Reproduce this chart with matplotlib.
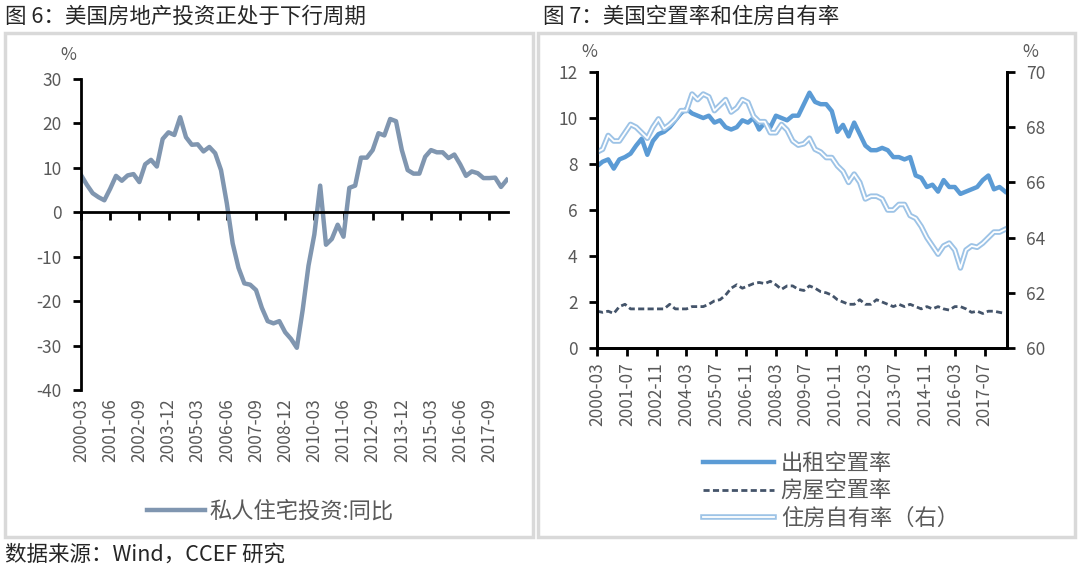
import matplotlib
matplotlib.use("Agg")
import matplotlib.pyplot as plt
import matplotlib.patheffects as pe
from matplotlib.patches import Rectangle

plt.rcParams['font.family'] = ['Noto Sans CJK SC', 'DejaVu Sans']
plt.rcParams['axes.unicode_minus'] = False

# ---- 图6 数据：私人住宅投资同比（季度，2000-03 起） ----
inv_ticks = ['2000-03', '2001-06', '2002-09', '2003-12', '2005-03', '2006-06', '2007-09',
             '2008-12', '2010-03', '2011-06', '2012-09', '2013-12', '2015-03', '2016-06', '2017-09']
inv_yoy = [8.4, 6.2, 4.3, 3.4, 2.7, 5.3, 8.2, 7.1, 8.3, 8.6,
           6.8, 10.8, 11.8, 10.3, 16.5, 18.0, 17.4, 21.4, 16.9, 15.2,
           15.3, 13.7, 14.7, 13.3, 9.5, 2.0, -7.0, -12.5, -16.0, -16.3,
           -17.5, -21.5, -24.5, -25.0, -24.5, -27.0, -28.5, -30.5, -22.0, -12.0,
           -5.0, 6.0, -7.3, -6.0, -2.8, -5.5, 5.5, 6.0, 12.3, 12.3,
           14.0, 17.8, 17.3, 21.0, 20.5, 14.0, 9.5, 8.7, 8.7, 12.5,
           14.0, 13.5, 13.5, 12.2, 13.0, 10.8, 8.2, 9.2, 8.8, 7.7,
           7.7, 7.8, 5.7, 7.3]

# ---- 图7 数据：空置率与住房自有率（季度，2000-03 起） ----
vac_ticks = ['2000-03', '2001-07', '2002-11', '2004-03', '2005-07', '2006-11', '2008-03',
             '2009-07', '2010-11', '2012-03', '2013-07', '2014-11', '2016-03', '2017-07']
rental_vac = [7.9, 8.1, 8.2, 7.8, 8.2, 8.3, 8.45, 8.8, 9.1, 8.4,
              9.0, 9.3, 9.4, 9.6, 9.9, 10.2, 10.4, 10.2, 10.1, 10.0,
              10.1, 9.8, 9.9, 9.6, 9.5, 9.6, 9.9, 9.8, 10.0, 9.5,
              9.8, 9.6, 10.1, 10.0, 9.9, 10.1, 10.1, 10.6, 11.1, 10.7,
              10.6, 10.6, 10.3, 9.4, 9.7, 9.2, 9.8, 9.3, 8.8, 8.6,
              8.6, 8.7, 8.6, 8.3, 8.3, 8.2, 8.3, 7.5, 7.4, 7.0,
              7.1, 6.8, 7.3, 7.0, 7.0, 6.7, 6.8, 6.9, 7.0, 7.3,
              7.5, 6.9, 7.0, 6.8]
home_vac = [1.6, 1.55, 1.6, 1.5, 1.8, 1.9, 1.7, 1.7, 1.7, 1.7,
            1.7, 1.7, 1.7, 1.9, 1.7, 1.7, 1.7, 1.8, 1.8, 1.8,
            1.9, 2.05, 2.1, 2.3, 2.6, 2.75, 2.6, 2.7, 2.8, 2.85,
            2.8, 2.9, 2.75, 2.55, 2.7, 2.7, 2.55, 2.5, 2.7, 2.6,
            2.45, 2.4, 2.3, 2.1, 2.0, 1.9, 1.9, 2.1, 1.9, 1.9,
            2.1, 2.0, 1.9, 1.8, 1.9, 1.8, 1.9, 1.8, 1.7, 1.8,
            1.7, 1.8, 1.7, 1.65, 1.8, 1.8, 1.7, 1.55, 1.6, 1.5,
            1.6, 1.6, 1.55, 1.5]
own_rate = [67.1, 67.2, 67.7, 67.5, 67.5, 67.8, 68.1, 68.0, 67.8, 67.6,
            68.0, 68.3, 67.95, 68.1, 68.3, 68.6, 68.6, 69.2, 69.0, 69.2,
            69.1, 68.6, 68.8, 69.0, 68.55, 68.7, 69.0, 68.9, 68.4, 68.2,
            68.2, 67.8, 67.8, 68.1, 67.9, 67.5, 67.35, 67.4, 67.6, 67.2,
            67.1, 66.9, 66.9, 66.6, 66.4, 66.0, 66.3, 66.0, 65.4, 65.5,
            65.5, 65.4, 65.0, 65.0, 65.2, 65.2, 64.8, 64.7, 64.4, 64.0,
            63.7, 63.4, 63.7, 63.8, 63.55, 62.9, 63.55, 63.7, 63.65, 63.8,
            64.0, 64.2, 64.2, 64.3]

W, H = 1080, 570
fig = plt.figure(figsize=(W / 100, H / 100), dpi=100)
gray = '#595959'

# panel frames
for x0, x1 in [(5, 533), (538, 1075)]:
    fig.patches.append(Rectangle((x0 / W, 1 - 537 / H), (x1 - x0) / W, (537 - 33) / H,
                                 transform=fig.transFigure, fill=False,
                                 edgecolor='#D9D9D9', linewidth=2.5))

fig.text(5 / W, 1 - 17 / H, '图 6：美国房地产投资正处于下行周期', fontsize=15.5,
         va='center', ha='left', color='#262626')
fig.text(543 / W, 1 - 17 / H, '图 7：美国空置率和住房自有率', fontsize=15.5,
         va='center', ha='left', color='#262626')
fig.text(5 / W, 1 - 555 / H, '数据来源：Wind，CCEF 研究', fontsize=15.5,
         va='center', ha='left', color='#262626')

# ---------------- 图6 ----------------
ax1 = fig.add_axes([81 / W, 1 - 390 / H, (508 - 81) / W, (390 - 79) / H])
x1 = list(range(len(inv_yoy)))
ln1, = ax1.plot(x1, inv_yoy, color='#8096B0', linewidth=3.2, label='私人住宅投资:同比')
ax1.set_ylim(-40, 30)
ax1.set_yticks(range(-40, 31, 10))
ax1.set_xlim(0, 73.2)
ax1.spines['top'].set_visible(False)
ax1.spines['right'].set_visible(False)
ax1.spines['bottom'].set_position(('data', 0))
for s in ['left', 'bottom']:
    ax1.spines[s].set_linewidth(2)
ax1.set_xticks(range(0, 71, 5))
ax1.tick_params(axis='x', direction='out', length=6, width=2, labelbottom=False)
ax1.tick_params(axis='y', direction='out', length=6, width=2, labelsize=12.5,
                labelcolor=gray, pad=8)
sec1 = ax1.secondary_xaxis(0)
sec1.set_xticks(range(0, 71, 5), inv_ticks, rotation=90)
sec1.spines['bottom'].set_visible(False)
sec1.tick_params(length=0, labelsize=12.5, labelcolor=gray, pad=6)
fig.text(68 / W, 1 - 55 / H, '%', fontsize=12.5, color=gray, ha='center', va='center')
fig.legend(handles=[ln1], loc='center', bbox_to_anchor=(270 / W, 1 - 511 / H),
           frameon=False, fontsize=16, handlelength=2.6, handletextpad=0.2,
           labelcolor=gray)

# ---------------- 图7 ----------------
ax2 = fig.add_axes([597 / W, 1 - 348 / H, (1007 - 597) / W, (348 - 72) / H])
ax3 = ax2.twinx()
xm = [3 * i for i in range(len(rental_vac))]
l_rent, = ax2.plot(xm, rental_vac, color='#5B9BD5', linewidth=3.2, label='出租空置率')
l_home, = ax2.plot(xm, home_vac, color='#44546A', linewidth=2, linestyle=(0, (2.2, 1.2)),
                   label='房屋空置率')
l_own, = ax3.plot(xm, own_rate, color='white', linewidth=1.3, label='住房自有率（右）',
                  path_effects=[pe.Stroke(linewidth=4, foreground='#9DC3E6'), pe.Normal()])
ax2.set_ylim(0, 12)
ax2.set_yticks(range(0, 13, 2))
ax3.set_ylim(60, 70)
ax3.set_yticks(range(60, 71, 2))
ax2.set_xlim(0, 220)
ax2.set_xticks(range(0, 209, 16), vac_ticks, rotation=90)
for a in (ax2, ax3):
    a.spines['top'].set_visible(False)
    for s in ['left', 'right', 'bottom']:
        a.spines[s].set_linewidth(2)
ax2.tick_params(axis='x', direction='out', length=6, width=2, labelsize=12.5,
                labelcolor=gray, pad=4)
ax2.tick_params(axis='y', direction='out', length=6, width=2, labelsize=12.5,
                labelcolor=gray, pad=8)
ax3.tick_params(axis='y', direction='out', length=6, width=2, labelsize=12.5,
                labelcolor=gray, pad=8)
fig.text(589 / W, 1 - 52 / H, '%', fontsize=12.5, color=gray, ha='center', va='center')
fig.text(1030 / W, 1 - 52 / H, '%', fontsize=12.5, color=gray, ha='center', va='center')
fig.legend(handles=[l_rent, l_home, l_own], loc='upper left',
           bbox_to_anchor=(683 / W, 1 - 432 / H), frameon=False, fontsize=16,
           handlelength=3.2, handletextpad=0.3, labelspacing=0.2, labelcolor=gray)

fig.savefig('out.png', dpi=100)
